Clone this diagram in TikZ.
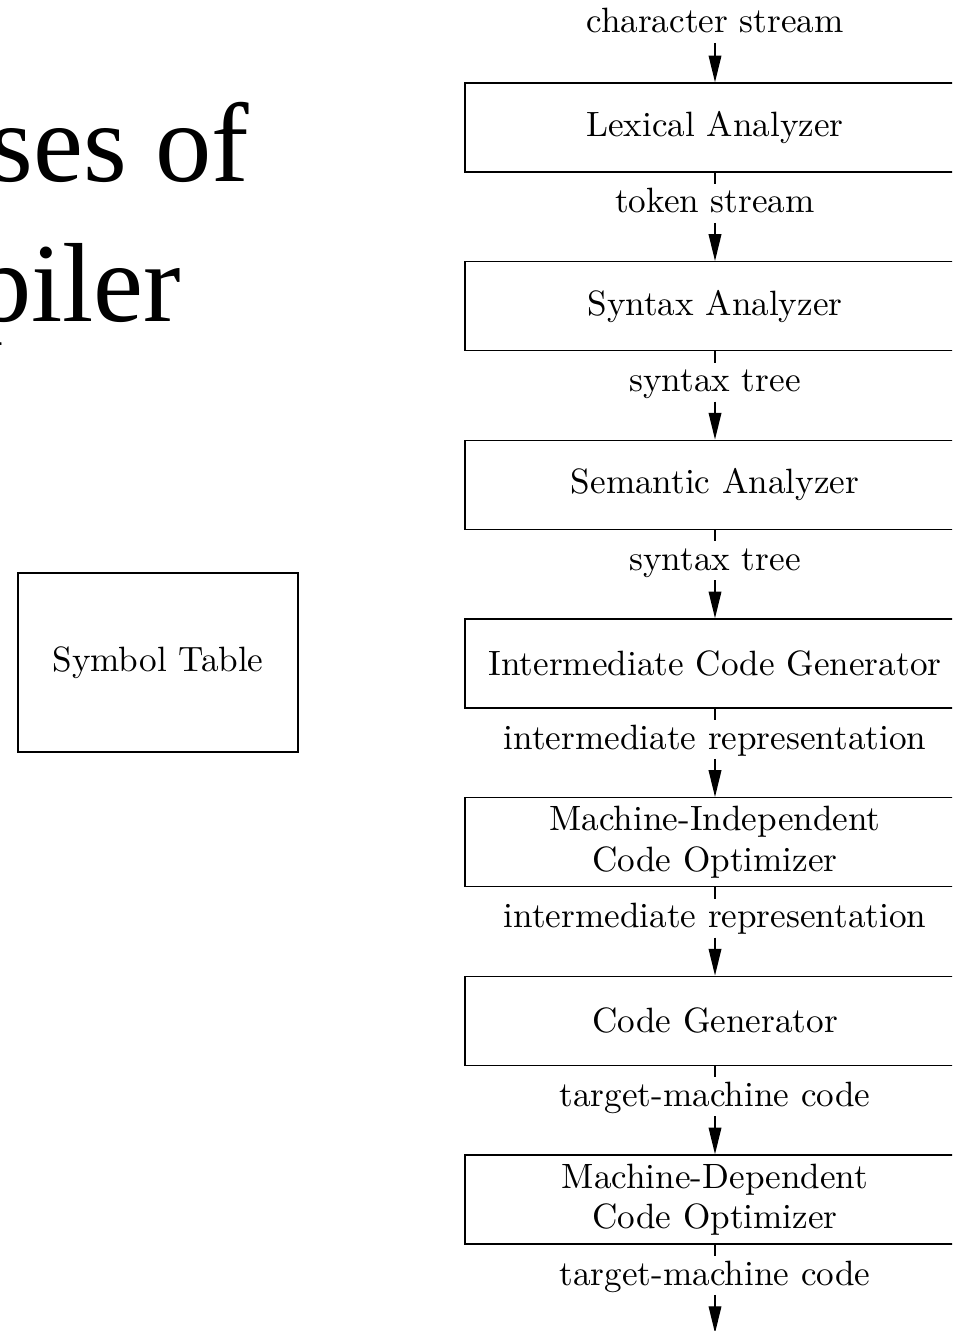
\documentclass[tikz,border=0pt]{standalone}
\usepackage{fontspec}
\newfontfamily\titlefont{Liberation Serif}
\usetikzlibrary{arrows.meta}
\tikzset{
  phase/.style={draw, minimum width=5cm, minimum height=0.89cm, align=center, inner sep=0pt},
  stream/.style={inner xsep=2pt, inner ysep=1pt, text height=7pt, text depth=1.6pt, anchor=base},
  flow/.style={-{Triangle[length=7.6pt,width=3.6pt]}},
  heading/.style={anchor=base east, inner sep=0pt, font=\titlefont\fontsize{32}{32}\selectfont}
}
\begin{document}
\begin{tikzpicture}[x=0.01cm, y=-0.01cm]
\useasboundingbox (0,0) rectangle (952,1331);
\clip (0,0) rectangle (952,1331);
% slide title, cut off at the left
\node[heading] (title1) at (250,182) {ses of};
\node[heading] (title2) at (182,322) {piler};
\node[draw, minimum width=2.8cm, minimum height=1.79cm] (symtab) at (158,662.5) {Symbol Table};
% phases
\node[phase] (lex) at (715,127.5) {Lexical Analyzer};
\node[phase] (syn) at (715,306.2) {Syntax Analyzer};
\node[phase] (sem) at (715,484.8) {Semantic Analyzer};
\node[phase] (icg) at (715,663.5) {Intermediate Code Generator};
\node[phase] (mico) at (715,842.2) {Machine-Independent\\[-0.6pt]Code Optimizer};
\node[phase] (cg) at (715,1020.8) {Code Generator};
\node[phase] (mdco) at (715,1199.5) {Machine-Dependent\\[-0.6pt]Code Optimizer};
% what flows between them
\node[stream] (s0) at (715,33) {character stream};
\node[stream] (s1) at (715,213) {token stream};
\node[stream] (s2) at (715,391.7) {syntax tree};
\node[stream] (s3) at (715,570.3) {syntax tree};
\node[stream] (s4) at (715,749) {intermediate representation};
\node[stream] (s5) at (715,927.7) {intermediate representation};
\node[stream] (s6) at (715,1106.3) {target-machine code};
\node[stream] (s7) at (715,1285) {target-machine code};
\coordinate (out) at (715,1333);
\draw[flow] (s0) -- (lex);
\draw (lex) -- (s1);
\draw[flow] (s1) -- (syn);
\draw (syn) -- (s2);
\draw[flow] (s2) -- (sem);
\draw (sem) -- (s3);
\draw[flow] (s3) -- (icg);
\draw (icg) -- (s4);
\draw[flow] (s4) -- (mico);
\draw (mico) -- (s5);
\draw[flow] (s5) -- (cg);
\draw (cg) -- (s6);
\draw[flow] (s6) -- (mdco);
\draw (mdco) -- (s7);
\draw[flow] (s7) -- (out);
\end{tikzpicture}
\end{document}
